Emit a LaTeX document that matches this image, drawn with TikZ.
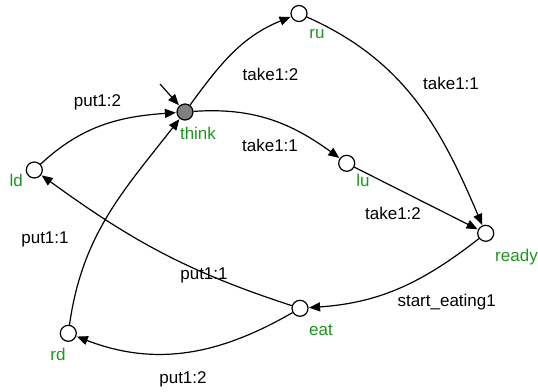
\documentclass[tikz,border=0pt]{standalone}
\usepackage{fontspec}
\setmainfont{Liberation Sans}
\usetikzlibrary{arrows.meta}
\definecolor{lblgreen}{RGB}{30,150,30}
\definecolor{stategray}{RGB}{128,128,128}
\begin{document}
\begin{tikzpicture}[x=1pt,y=1pt,
  state/.style={circle,draw,line width=1.2pt,minimum size=16pt,inner sep=0pt,fill=white},
  init/.style={state,fill=stategray},
  lbl/.style={text=lblgreen,inner sep=0pt,anchor=base,font=\fontsize{17}{17}\selectfont},
  elbl/.style={inner sep=0pt,anchor=base,font=\fontsize{17}{17}\selectfont},
  edge/.style={line width=1.2pt,-{Triangle[length=11pt,width=9pt]},shorten >=0.5pt}]
\useasboundingbox (0,0) rectangle (538,-391);
% states
\node[init]  (think) at (185,-112) {};
\node[state] (ru)    at (299,-13.5) {};
\node[state] (lu)    at (346.7,-163.3) {};
\node[state] (ready) at (485.7,-233.3) {};
\node[state] (eat)   at (300,-308.3) {};
\node[state] (ld)    at (34.3,-170) {};
\node[state] (rd)    at (68.3,-333.3) {};
% state labels
\node[lbl] (thinkl) at (198,-139) {think};
\node[lbl] (rul)    at (317,-38.5) {ru};
\node[lbl] (lul)    at (363,-186.5) {lu};
\node[lbl] (readyl) at (516.5,-261.5) {ready};
\node[lbl] (eatl)   at (321,-335) {eat};
\node[lbl] (ldl)    at (16.3,-186.7) {ld};
\node[lbl] (rdl)    at (58,-360) {rd};
% initial arrow
\coordinate (start) at (160,-84);
\draw[edge] (start) -- (think);
% transitions
\draw[edge] (think) to[out=54,in=202] (ru);
\draw[edge] (ru) to[out=-24,in=113] (ready);
\draw[edge] (think) to[out=4,in=144] (lu);
\draw[edge] (lu) -- (ready);
\draw[edge] (ready) to[out=218,in=4] (eat);
\draw[edge] (eat) to[out=162,in=-36] (ld);
\draw[edge] (eat) to[out=210,in=-21] (rd);
\draw[edge] (ld) to[out=43,in=184] (think);
\draw[edge] (rd) to[out=82,in=232] (think);
% transition labels
\node[elbl] (l1) at (270.5,-80.5) {take1:2};
\node[elbl] (l2) at (451,-89) {take1:1};
\node[elbl] (l3) at (270,-151) {take1:1};
\node[elbl] (l4) at (393,-219) {take1:2};
\node[elbl] (l5) at (446.7,-306) {start\_eating1};
\node[elbl] (l6) at (204,-279) {put1:1};
\node[elbl] (l7) at (183,-383) {put1:2};
\node[elbl] (l8) at (97.5,-106.5) {put1:2};
\node[elbl] (l9) at (45,-243) {put1:1};
\end{tikzpicture}
\end{document}
